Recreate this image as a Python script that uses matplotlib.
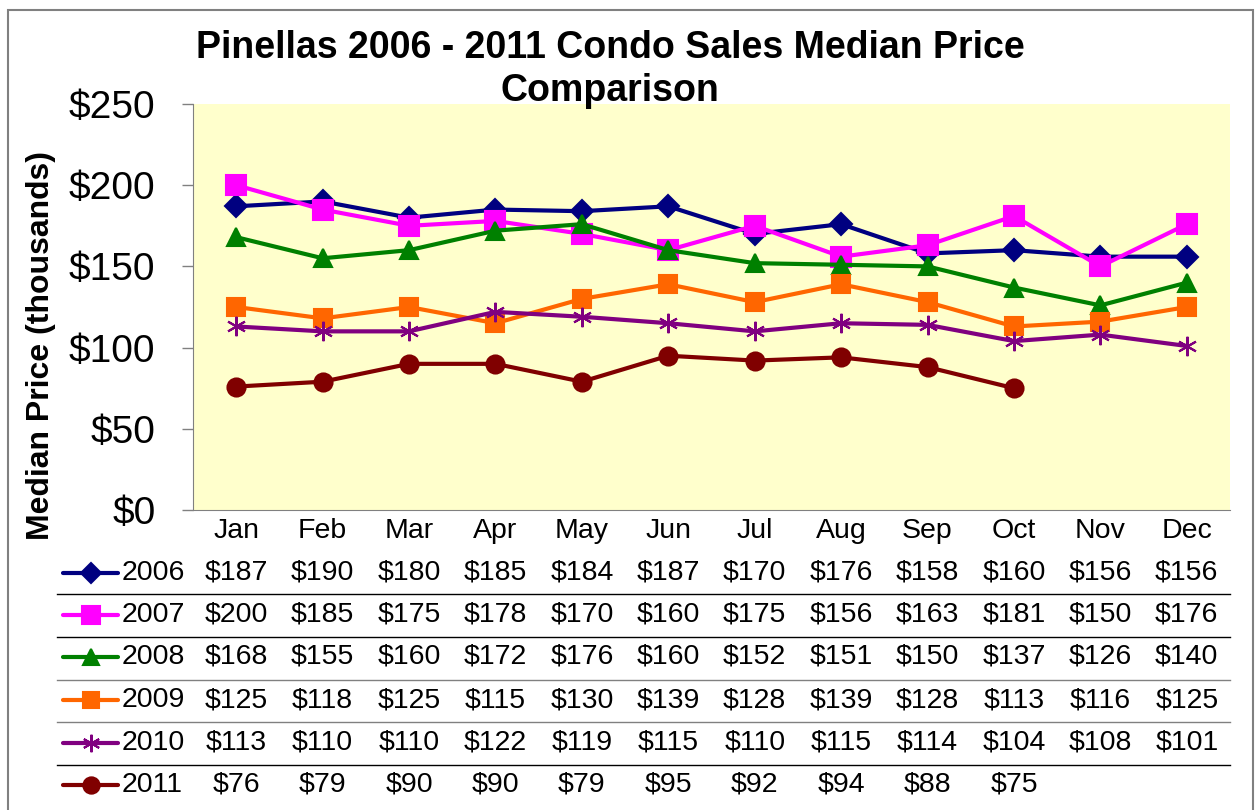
import matplotlib
matplotlib.use('Agg')
import matplotlib.pyplot as plt
from matplotlib.lines import Line2D
from matplotlib.patches import Rectangle
import matplotlib.transforms as mtransforms

plt.rcParams['font.family'] = ['Liberation Sans', 'DejaVu Sans']

months = ['Jan', 'Feb', 'Mar', 'Apr', 'May', 'Jun', 'Jul', 'Aug', 'Sep', 'Oct', 'Nov', 'Dec']
years = ['2006', '2007', '2008', '2009', '2010', '2011']

p2006 = [187, 190, 180, 185, 184, 187, 170, 176, 158, 160, 156, 156]
p2007 = [200, 185, 175, 178, 170, 160, 175, 156, 163, 181, 150, 176]
p2008 = [168, 155, 160, 172, 176, 160, 152, 151, 150, 137, 126, 140]
p2009 = [125, 118, 125, 115, 130, 139, 128, 139, 128, 113, 116, 125]
p2010 = [113, 110, 110, 122, 119, 115, 110, 115, 114, 104, 108, 101]
p2011 = [76, 79, 90, 90, 79, 95, 92, 94, 88, 75]

series = [p2006, p2007, p2008, p2009, p2010, p2011]
colors = ['#000080', '#FF00FF', '#008000', '#FF6600', '#800080', '#800000']
markers = ['D', 's', '^', 's', (6, 2, 0), 'o']
msizes = [11, 14, 13, 13, 14, 13]

W, H = 1257, 810
fig = plt.figure(figsize=(W / 100, H / 100), dpi=100)


def fx(px):
    return px / W


def fy(py):
    return 1 - py / H


ax = fig.add_axes([fx(193), fy(510), fx(1230) - fx(193), fy(104) - fy(510)])
ax.set_facecolor('#FFFFCC')

x = list(range(len(months)))
for vals, c, m, ms in zip(series, colors, markers, msizes):
    ax.plot(x[:len(vals)], vals, color=c, lw=3, marker=m, markersize=ms,
            markeredgecolor=c, markerfacecolor=c, markeredgewidth=1.5, zorder=3)

ax.set_xlim(-0.5, 11.5)
ax.set_ylim(0, 250)
ax.set_yticks([0, 50, 100, 150, 200, 250])
ax.set_yticklabels(['$' + str(v) for v in [0, 50, 100, 150, 200, 250]], fontsize=28)
ax.tick_params(axis='y', length=8, width=1, color='#808080', pad=19)
ax.set_xticks([])
for s in ['top', 'right']:
    ax.spines[s].set_visible(False)
ax.spines['left'].set_color('#808080')
ax.spines['bottom'].set_color('#808080')

fig.text(fx(41), fy(346), 'Median Price (thousands)', rotation=90, fontsize=23,
         fontweight='bold', ha='center', va='center')
fig.text(fx(610), fy(48), 'Pinellas 2006 - 2011 Condo Sales Median Price',
         fontsize=27, fontweight='bold', ha='center', va='center')
fig.text(fx(610), fy(91), 'Comparison',
         fontsize=27, fontweight='bold', ha='center', va='center')

# data table below the plot
trans = mtransforms.blended_transform_factory(ax.transData, fig.transFigure)
for i, mth in enumerate(months):
    ax.text(i, fy(531), mth, transform=trans, fontsize=20.5, ha='center', va='center', clip_on=False)

row_y = [573, 615, 657, 700, 743, 785]
for yr, vals, c, m, ms, ry in zip(years, series, colors, markers, msizes, row_y):
    fig.add_artist(Line2D([fx(63), fx(90.5), fx(118)], [fy(ry), fy(ry), fy(ry)],
                          transform=fig.transFigure, color=c, lw=3, marker=m,
                          markersize=ms * 0.9, markevery=[1], markerfacecolor=c,
                          markeredgecolor=c, markeredgewidth=1.5,
                          solid_capstyle='round'))
    fig.text(fx(122), fy(ry), yr, fontsize=20.5, ha='left', va='center')
    for i, v in enumerate(vals):
        ax.text(i, fy(ry), '$' + str(v), transform=trans, fontsize=20.5,
                ha='center', va='center', clip_on=False)

for ly, lc in zip([594, 637, 680, 722, 765], ['black', 'black', '#808080', '#808080', 'black']):
    fig.add_artist(Line2D([fx(57), fx(1230)], [fy(ly), fy(ly)], transform=fig.transFigure,
                          color=lc, lw=1))

fig.add_artist(Rectangle((fx(8), fy(830)), fx(1253) - fx(8), fy(10) - fy(830),
                         transform=fig.transFigure, fill=False, edgecolor='#808080', lw=1.5))

fig.savefig('out.png', dpi=100)
